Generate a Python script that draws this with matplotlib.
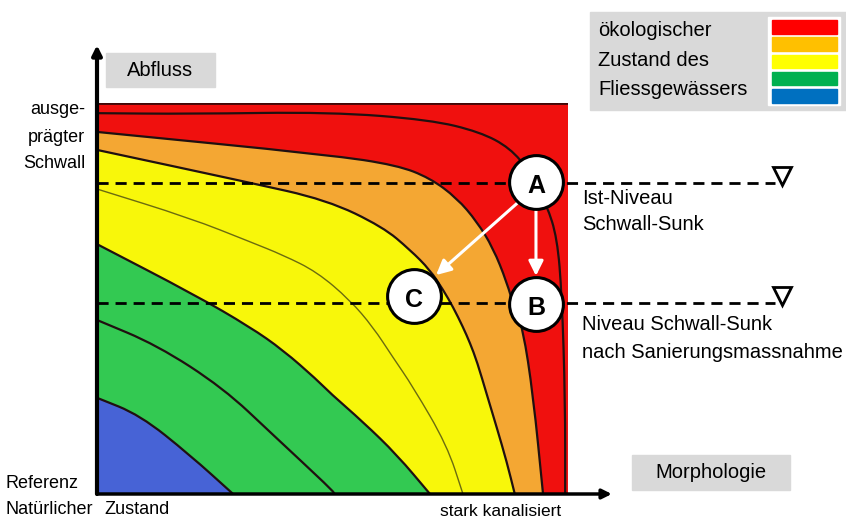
import numpy as np
import matplotlib.pyplot as plt
from matplotlib.patches import Rectangle, PathPatch
from matplotlib.path import Path

plt.rcParams['font.family'] = ['Liberation Sans', 'DejaVu Sans']

# Grenzlinien der Zustandsklassen (Morphologie 0-100, Abfluss 0-100)
rot_innen_x = [0, 19.7, 49.5, 70.7, 81.3, 87.7, 91.9, 95.5, 97.7, 98.7, 99.4, 99.4]
rot_innen_y = [97.4, 97.2, 97.7, 95.7, 92.6, 88.5, 82.4, 73.9, 65.5, 50.9, 24.0, 0]
orange_x = [0, 49.5, 63.7, 70.7, 76.4, 80.7, 84.1, 87.0, 88.7, 90.4, 92.6, 94.7]
orange_y = [92.6, 86.7, 84.1, 80.8, 75.7, 69.6, 62.9, 54.2, 47.1, 42.5, 25.3, 0]
gelb_x = [0, 31.8, 48.8, 60.7, 66.5, 70.7, 73.5, 75.6, 77.7, 79.2, 80.7, 82.8, 84.9, 87.0, 88.7]
gelb_y = [88.0, 79.8, 75.2, 68.3, 62.4, 57.3, 52.2, 47.8, 42.7, 38.6, 33.8, 25.3, 16.9, 8.2, 0]
gelb_dünn_x = [0, 19.7, 32.5, 39.5, 46.7, 53.7, 58.6, 62.8, 67.1, 74.3, 77.7]
gelb_dünn_y = [78.0, 70.6, 64.5, 61.1, 56.8, 49.6, 42.7, 35.0, 27.4, 12.5, 0]
grün_x = [0, 20.8, 32.5, 39.5, 46.7, 49.5, 56.5, 63.7, 70.7]
grün_y = [63.9, 50.9, 42.7, 36.8, 29.2, 25.8, 18.4, 10.0, 0]
grün_innen_x = [0, 12.7, 26.8, 37.4, 49.5, 50.5]
grün_innen_y = [44.5, 38.1, 27.1, 15.1, 1.5, 0]
blau_x = [0, 9.1, 19.7, 28.9]
blau_y = [24.6, 20.2, 10.0, 0]

feld_farben = ['#f0100e', '#f0100e', '#f4a733', '#f8f70a', '#f8f70a', '#33c952', '#33c952', '#4763d6']
legende_farben = ['#ff0000', '#ffc000', '#ffff00', '#00b050', '#0070c0']

# Zustand Punkte
punkte = {'A': (93.2, 79.8), 'B': (93.2, 48.6), 'C': (67.3, 50.6)}
ist_niveau = 79.5
neu_niveau = 48.8

W, H = 846, 520
fig = plt.figure(figsize=(W / 100, H / 100), dpi=100)
ax = fig.add_axes([97 / W, 26 / H, 471 / W, 391 / H])
ax.set_xlim(0, 100)
ax.set_ylim(0, 100)
ax.axis('off')

def fx(px):
    return px / W

def fy(py):
    return 1 - py / H

def glatt(kx, ky, ecke=False):
    # gerundeter Linienzug: Punkte als Kontrollpunkte, Mitten als Stützpunkte
    p = np.column_stack([kx, ky])
    verts = [p[0], (p[0] + p[1]) / 2]
    codes = [Path.MOVETO, Path.LINETO]
    for i in range(1, len(p) - 1):
        verts += [p[i], (p[i] + p[i + 1]) / 2]
        codes += [Path.CURVE3, Path.CURVE3]
    verts.append(p[-1])
    codes.append(Path.LINETO)
    if ecke:
        verts += [(0, 0), p[0]]
        codes += [Path.LINETO, Path.CLOSEPOLY]
    return Path(verts, codes)

# Hintergrund rot, dann Flächen von aussen nach innen
ax.add_patch(Rectangle((0, 0), 100, 100, color=feld_farben[0], zorder=0))
kurven = [(rot_innen_x, rot_innen_y), (orange_x, orange_y), (gelb_x, gelb_y),
          (gelb_dünn_x, gelb_dünn_y), (grün_x, grün_y), (grün_innen_x, grün_innen_y),
          (blau_x, blau_y)]
for i, (kx, ky) in enumerate(kurven):
    ax.add_patch(PathPatch(glatt(kx, ky, ecke=True), facecolor=feld_farben[i + 1], lw=0, zorder=1 + i))
for i, (kx, ky) in enumerate(kurven):
    if i == 3:
        ax.add_patch(PathPatch(glatt(kx, ky), fill=False, edgecolor='#6b6b10', lw=1.0, zorder=10))
    else:
        ax.add_patch(PathPatch(glatt(kx, ky), fill=False, edgecolor='#201010', lw=1.6, zorder=10))
ax.plot([0, 100], [100, 100], color='#400808', lw=2, zorder=11)

# Achsen
ax.annotate('', xy=(0, 114.8), xytext=(0, 0), annotation_clip=False, zorder=12,
            arrowprops=dict(arrowstyle='-|>', lw=3, color='k', mutation_scale=14, shrinkA=0, shrinkB=0))
ax.annotate('', xy=(109.3, 0), xytext=(0, 0), annotation_clip=False, zorder=12,
            arrowprops=dict(arrowstyle='-|>', lw=2.5, color='k', mutation_scale=14, shrinkA=0, shrinkB=0))

# Niveau-Linien
for lev in [ist_niveau, neu_niveau]:
    ax.plot([0, 144], [lev, lev], color='k', lw=2, ls=(0, (4, 2.5)), clip_on=False, zorder=13)
    ax.plot([145.5], [lev + 1.9], marker='v', ms=13, mfc='white', mec='k', mew=2,
            clip_on=False, zorder=13)

# Pfeile
ax.annotate('', xy=(punkte['B'][0], punkte['B'][1] + 7.2), xytext=(punkte['A'][0], punkte['A'][1] - 6.8),
            zorder=14, arrowprops=dict(arrowstyle='-|>', color='white', lw=2.2, mutation_scale=22,
                                       shrinkA=0, shrinkB=0))
ax.annotate('', xy=(72.0, 56.0), xytext=(89.8, 75.0),
            zorder=14, arrowprops=dict(arrowstyle='-|>', color='white', lw=2.2, mutation_scale=22,
                                       shrinkA=0, shrinkB=0))

for name, (px, py) in punkte.items():
    ax.scatter([px], [py], s=1500, facecolor='white', edgecolor='k', lw=2.2, zorder=15, clip_on=False)
    ax.text(px, py - 1.0, name, ha='center', va='center', fontsize=18, fontweight='bold', zorder=16)

# Beschriftungen
fig.patches.append(Rectangle((fx(106), fy(87)), (215 - 106) / W, 34 / H, transform=fig.transFigure,
                             color='#d9d9d9', zorder=0))
fig.text(fx(160), fy(70), 'Abfluss', ha='center', va='center', fontsize=14.5)
fig.patches.append(Rectangle((fx(632), fy(490)), (790 - 632) / W, 35 / H, transform=fig.transFigure,
                             color='#d9d9d9', zorder=0))
fig.text(fx(711), fy(472), 'Morphologie', ha='center', va='center', fontsize=14.5)

for txt, y in [('ausge-', 110), ('prägter', 137), ('Schwall', 163)]:
    fig.text(fx(85), fy(y), txt, ha='right', va='center', fontsize=13)
fig.text(fx(5), fy(484), 'Referenz', ha='left', va='center', fontsize=13)
fig.text(fx(5), fy(510), 'Natürlicher', ha='left', va='center', fontsize=13)
fig.text(fx(104), fy(510), 'Zustand', ha='left', va='center', fontsize=13)
fig.text(fx(501), fy(512), 'stark kanalisiert', ha='center', va='center', fontsize=12.5)

fig.text(fx(582), fy(198), 'Ist-Niveau', ha='left', va='center', fontsize=14.5)
fig.text(fx(582), fy(225), 'Schwall-Sunk', ha='left', va='center', fontsize=14.5)
fig.text(fx(582), fy(325), 'Niveau Schwall-Sunk', ha='left', va='center', fontsize=14.5)
fig.text(fx(582), fy(352), 'nach Sanierungsmassnahme', ha='left', va='center', fontsize=14.5)

# Legende
fig.patches.append(Rectangle((fx(590), fy(110)), (846 - 590) / W, 98 / H, transform=fig.transFigure,
                             color='#d9d9d9', zorder=0))
fig.patches.append(Rectangle((fx(768), fy(105)), 72 / W, 88 / H, transform=fig.transFigure,
                             color='white', zorder=1))
for i, c in enumerate(legende_farben):
    top = 20 + i * 17.3
    fig.patches.append(Rectangle((fx(772), fy(top + 13.5)), 65 / W, 13.5 / H, transform=fig.transFigure,
                                 color=c, zorder=2))
for txt, y in [('ökologischer', 31), ('Zustand des', 60), ('Fliessgewässers', 89)]:
    fig.text(fx(598), fy(y), txt, ha='left', va='center', fontsize=14.5)

plt.savefig('out.png', dpi=100)
